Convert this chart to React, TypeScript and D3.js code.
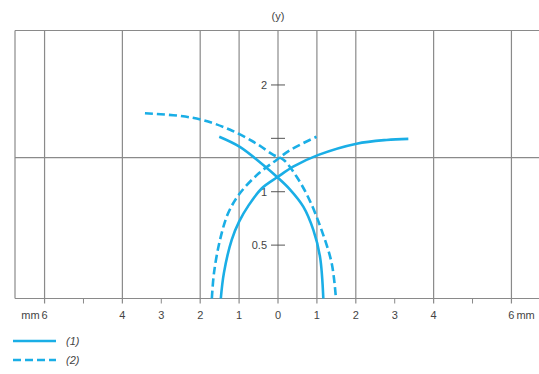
import React from "react";
import * as d3 from "d3";

// tick positions on the mm axis (both sides of 0)
const xLabelTicks = [-6, -4, -3, -2, -1, 0, 1, 2, 3, 4, 6];
const xGridLines = [-6, -4, -2, -1, 0, 1, 2, 4, 6];
const xMinorTicks = [-5, -3, 3, 5];
const yTicks = [0.5, 1, 1.5, 2];
const yTickLabels = ["0.5", "1", "", "2"];
const refLineY = 1.32;

// curve (1), solid: two branches
const curve1Rising: [number, number][] = [
  [-1.47, 0], [-1.39, 0.24], [-1.19, 0.55], [-1.0, 0.72], [-0.76, 0.87],
  [-0.42, 1.03], [0, 1.14], [0.39, 1.235], [1.04, 1.345], [2.02, 1.45],
  [2.79, 1.485], [3.35, 1.495],
];
const curve1Falling: [number, number][] = [
  [-1.51, 1.515], [-0.98, 1.42], [-0.38, 1.25], [-0.03, 1.14], [0.31, 1.02],
  [0.65, 0.86], [0.91, 0.64], [1.08, 0.39], [1.165, 0],
];
// curve (2), dashed
const curve2Rising: [number, number][] = [
  [-1.7, 0], [-1.645, 0.24], [-1.49, 0.55], [-1.28, 0.8], [-0.98, 0.985],
  [-0.5, 1.17], [-0.03, 1.3], [0.31, 1.39], [0.99, 1.515],
];
const curve2Falling: [number, number][] = [
  [-3.42, 1.735], [-2.52, 1.71], [-1.92, 1.67], [-1.23, 1.58], [-0.55, 1.45],
  [-0.12, 1.345], [0.14, 1.3], [0.48, 1.14], [0.8, 0.93], [1.12, 0.64],
  [1.38, 0.33], [1.49, 0],
];
const legendLabels = ["(1)", "(2)"];

const width = 539;
const height = 374;
const blue = "#1aaee6";
const grey = "#8a8a8a";
const font = "'Liberation Sans', Arial, sans-serif";

export default function App() {
  const x = d3.scaleLinear().domain([-6.76, 6.76]).range([15, 541]);
  const y = d3.scaleLinear().domain([0, 2.51]).range([298.5, 30.5]);
  const line = d3
    .line<[number, number]>()
    .x((d) => x(d[0]))
    .y((d) => y(d[1]))
    .curve(d3.curveCatmullRom.alpha(0.5));

  const [x0, x1] = x.range();
  const [yb, yt] = y.range();

  return (
    <svg
      width={width}
      height={height}
      style={{ position: "absolute", left: 0, top: 0, background: "#fff" }}
      fontFamily={font}
    >
      {/* frame */}
      <line x1={x0} x2={x1} y1={yt} y2={yt} stroke={grey} strokeWidth={1.2} />
      <line x1={x0} x2={x1} y1={yb} y2={yb} stroke={grey} strokeWidth={1.2} />
      <line x1={x0} x2={x0} y1={yt} y2={yb} stroke={grey} strokeWidth={1.2} />
      <line x1={x0} x2={x1} y1={y(refLineY)} y2={y(refLineY)} stroke={grey} strokeWidth={1.2} />

      {xGridLines.map((v) => (
        <line key={"g" + v} x1={x(v)} x2={x(v)} y1={yt} y2={yb + 5} stroke={grey} strokeWidth={1.2} />
      ))}
      {xMinorTicks.map((v) => (
        <line key={"m" + v} x1={x(v)} x2={x(v)} y1={yb} y2={yb + 5} stroke={grey} strokeWidth={1} />
      ))}

      {xLabelTicks.map((v) => (
        <text key={"t" + v} x={x(v)} y={yb + 20} fontSize={11} fill="#444" textAnchor="middle">
          {Math.abs(v)}
        </text>
      ))}
      <text x={x(-6) - 5} y={yb + 20} fontSize={11} fill="#444" textAnchor="end">mm</text>
      <text x={x(6) + 5} y={yb + 20} fontSize={11} fill="#444" textAnchor="start">mm</text>

      {/* y ticks on the centre line */}
      {yTicks.map((v, i) => (
        <g key={"y" + v}>
          <line x1={x(0) - 7} x2={x(0) + 7} y1={y(v)} y2={y(v)} stroke="#555" strokeWidth={1} />
          <text x={x(0) - 11} y={y(v) + 4} fontSize={11} fill="#444" textAnchor="end">
            {yTickLabels[i]}
          </text>
        </g>
      ))}
      <text x={x(0)} y={20} fontSize={11} fill="#444" textAnchor="middle">(y)</text>

      {/* curves */}
      <path d={line(curve1Rising) || ""} fill="none" stroke={blue} strokeWidth={2.6} />
      <path d={line(curve1Falling) || ""} fill="none" stroke={blue} strokeWidth={2.6} />
      <path d={line(curve2Rising) || ""} fill="none" stroke={blue} strokeWidth={2.6} strokeDasharray="8,4" />
      <path d={line(curve2Falling) || ""} fill="none" stroke={blue} strokeWidth={2.6} strokeDasharray="8,4" />

      {/* legend */}
      {legendLabels.map((lab, i) => (
        <g key={lab} transform={`translate(13,${341 + i * 19})`}>
          <line x1={0} x2={43} y1={0} y2={0} stroke={blue} strokeWidth={2.6} strokeDasharray={i === 1 ? "8,4" : undefined} />
          <text x={53} y={4} fontSize={11} fontStyle="italic" fill="#444">{lab}</text>
        </g>
      ))}
    </svg>
  );
}
